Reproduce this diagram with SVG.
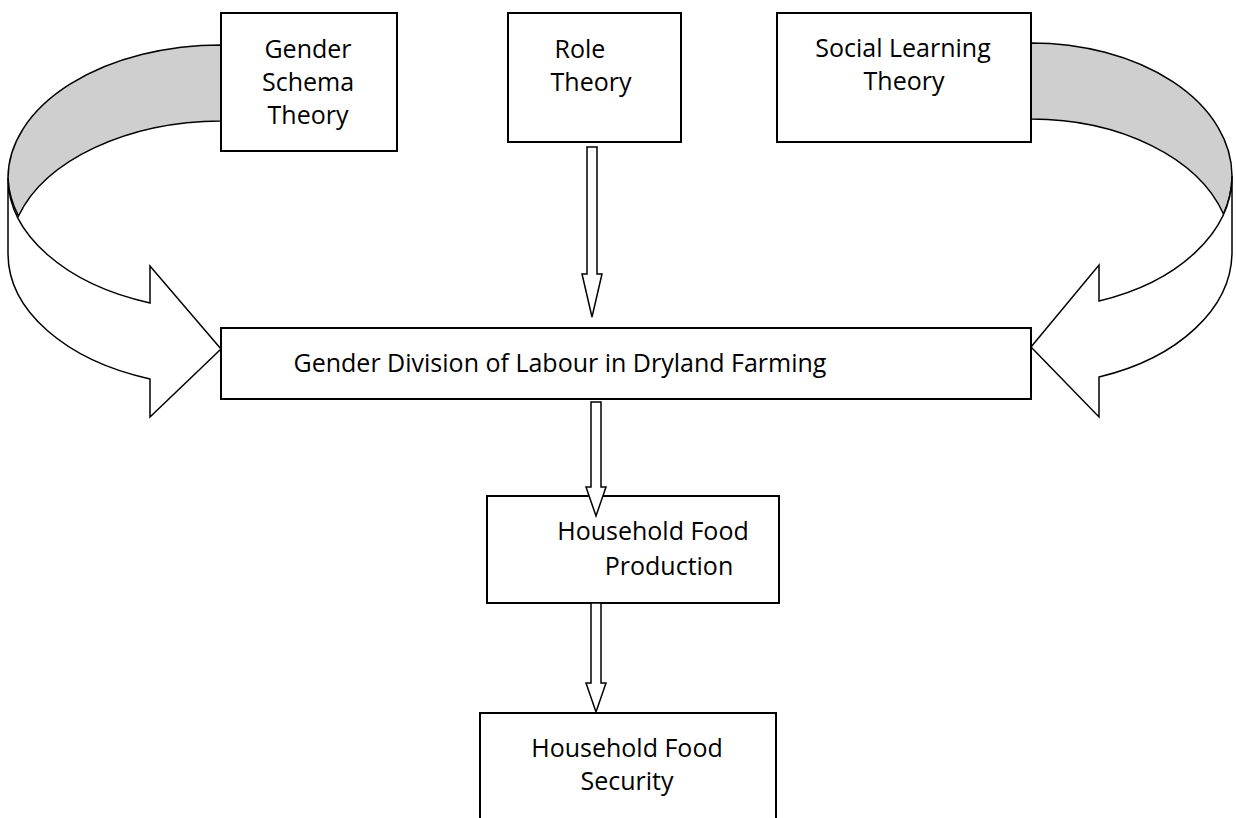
<svg xmlns="http://www.w3.org/2000/svg" width="1236" height="818" viewBox="0 0 1236 818">
<style>
.box{fill:#fff;stroke:#000;stroke-width:2}
.lbl{font-family:"Open Sans","Noto Sans",sans-serif;font-size:25px;fill:#000;text-anchor:middle}
.arw{fill:#fff;stroke:#000;stroke-width:1.5;stroke-linejoin:miter}
.band{fill:#cfcfcf;stroke:#000;stroke-width:1.5}
</style>
<rect width="1236" height="818" fill="#fff"/>
<g id="connectors">
<g id="curve-left">
<path class="band" d="M221,45 A213,133 0 0,0 8,178 A213,133 0 0,0 18.5,216 A213,133 0 0,1 221,121 Z"/>
<path class="arw" d="M8,178 L8,254 A213,133 0 0,0 150,379 L150,417 L221,349 L150,266 L150,303 A213,133 0 0,1 8,178 Z"/>
</g>
<g id="curve-right">
<path class="band" d="M1031,43 A201,133 0 0,1 1232,176 A201,133 0 0,1 1223.5,214 A201,133 0 0,0 1031,119 Z"/>
<path class="arw" d="M1232,176 L1232,252 A201,133 0 0,1 1099,377 L1099,417 L1031,347 L1099,265 L1099,301 A201,133 0 0,0 1232,176 Z"/>
</g>
</g>
<g id="n-gender-schema">
<rect class="box" x="221" y="13" width="176" height="138"/>
<text class="lbl" x="308" y="58">Gender</text>
<text class="lbl" x="308" y="91">Schema</text>
<text class="lbl" x="308" y="124">Theory</text>
</g>
<g id="n-role">
<rect class="box" x="508" y="13" width="173" height="129"/>
<text class="lbl" x="580" y="58">Role</text>
<text class="lbl" x="591" y="91">Theory</text>
</g>
<g id="n-social">
<rect class="box" x="777" y="13" width="254" height="129"/>
<text class="lbl" x="903" y="57">Social Learning</text>
<text class="lbl" x="904" y="90">Theory</text>
</g>
<g id="n-division">
<rect class="box" x="221" y="328" width="810" height="71"/>
<text class="lbl" x="560" y="372">Gender Division of Labour in Dryland Farming</text>
</g>
<g id="n-production">
<rect class="box" x="487" y="496" width="292" height="107"/>
<text class="lbl" x="653" y="540">Household Food</text>
<text class="lbl" x="669" y="575">Production</text>
</g>
<g id="n-security">
<rect class="box" x="480" y="713" width="296" height="120"/>
<text class="lbl" x="627" y="757">Household Food</text>
<text class="lbl" x="627" y="790">Security</text>
</g>
<g id="straight-arrows">
<path class="arw" d="M587,147 L597,147 L597,274 L602,274 L592,317 L582,274 L587,274 Z"/>
<path class="arw" d="M591,402 L601,402 L601,487 L606,487 L596,516 L586,487 L591,487 Z"/>
<path class="arw" d="M591,603 L601,603 L601,683 L606,683 L596,712 L586,683 L591,683 Z"/>
</g>
</svg>
